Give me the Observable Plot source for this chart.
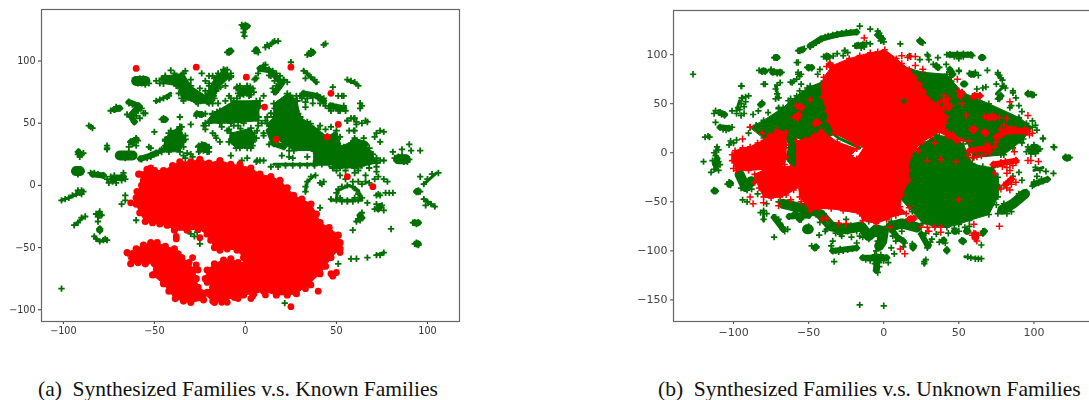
<!DOCTYPE html>
<html><head><meta charset="utf-8">
<script src="https://cdn.jsdelivr.net/npm/d3@7"></script>
<script src="https://cdn.jsdelivr.net/npm/@observablehq/plot@0.6"></script>
<style>
html,body{margin:0;padding:0;background:#fff;width:1089px;height:400px;overflow:hidden}
#page{position:relative;width:1089px;height:400px;overflow:hidden}
#page svg{position:absolute;top:0;filter:blur(.4px)}
.cap{position:absolute;top:377px;font:21.5px "Liberation Serif",serif;color:#111;white-space:pre}
</style></head><body><div id="page"></div>
<script>
const ticksX=[-100,-50,0,50,100];
const ticksYA=[-100,-50,0,50,100];
const ticksYB=[-150,-100,-50,0,50,100];
const captionA="(a)  Synthesized Families v.s. Known Families";
const captionB="(b)  Synthesized Families v.s. Unknown Families";

// Panel (a): saturated red mass, outline
const knownMainOutline=[[-58.6,9],[-54,13],[-50,12],[-45,12],[-40,16],[-36,19],[-30,19],[-25,21],[-20,18],[-14,20],[-8,17],[-3,16],[3,14],[8,9],[14,7],[19,4],[23,-2],[26.5,-8],[31,-11],[36,-15],[39,-23],[41,-30],[46,-34],[51,-40],[52,-46],[52,-51],[47,-58],[44,-65],[41,-71],[35,-79],[28,-87],[23,-88],[17,-88],[10,-85],[4.6,-87],[-1,-88],[-6,-90],[-11,-92],[-17,-94],[-23,-87],[-18,-82],[-22,-75],[-21,-68],[-17,-63],[-12,-60],[-8,-59],[-4,-62],[-1,-64],[-1,-58],[-4.6,-52],[-10,-51],[-14,-52],[-17,-50],[-19,-44],[-21,-39],[-26,-35],[-32,-36],[-39,-36],[-43,-32],[-47,-31],[-51,-30],[-55,-29],[-58,-22],[-60,-15],[-60,-10],[-59.5,-5],[-57,0],[-56,4]];
const knownLowerOutline=[[-65,-54],[-60,-51],[-56,-48],[-52,-46],[-48.5,-46],[-44,-49],[-39,-51],[-37,-55],[-35,-58],[-31,-62],[-28,-68],[-27,-75],[-26,-82],[-21,-86],[-23,-92],[-30,-94],[-34,-93],[-38.5,-91],[-42,-85],[-45,-79],[-51,-72],[-50,-63],[-55,-63],[-59,-62],[-63,-63]];
const knownScatter=[[-60,94],[-27,95],[0.5,87],[25,95],[47,74],[10.5,63],[51,49],[17,37],[45,39],[56,7],[70,-1],[-58,9],[-63,-14],[-38,-41],[-38,-43],[-25,-42],[-29,-58],[-27,-64],[-26,-68],[-21,-78],[-17,-80],[52,-54],[47,-71],[50,-70],[48,-73],[40,-85],[36,-80],[33,-83],[25,-97.5],[11,-88],[3,-91],[4,-89],[-4,-91],[-13,-94],[-10,-94],[-18,-93],[-52,14],[-50,12],[-25,20],[-3,17]];

// Panel (a): synthesized plus markers
const synthLeft=[[-101,-12],[-99,-11],[-97,-10],[-95,-8],[-93,-7],[-91,-6],[-90,-4],[-92,-4],[-89,-5],[-90,-7],[-92,27],[-90,25],[-91,23],[-89,26],[-92,25],[-94,11],[-92,13],[-90,11],[-92,9],[-92,11],[-86,48],[-85,47],[-84,46],[-85,10],[-83,10],[-81,9],[-78,8],[-76,32],[-76,29],[-76,30],[-76,5],[-74,7],[-72,8],[-70,6],[-73,3],[-71,2],[-68,4],[-66,5],[-67,7],[-67,10],[-75,2],[-70,62],[-72,61],[-74,60],[-71,63],[-62,58],[-60,56],[-63,55],[-61,52],[-59,60],[-58,54],[-65,57],[-64,66],[-62,65],[-60,64],[-58,63],[-57,62],[-56,58],[-55,58],[-69,24],[-67,25],[-65,24],[-63,23],[-66,22],[-64,26],[-62,24],[-64,31],[-62,33],[-61,36],[-60,38],[-59,36],[-63,35],[-60,32],[-57,21],[-54,22],[-52,23],[-50,25],[-48,26],[-53,31],[-52,30],[-50,43],[-46,53],[-44,53],[-45,54],[-36,55],[-30,49],[-94,-32],[-92,-30],[-90,-26],[-88,-25],[-82,-23],[-80,-23],[-79,-24],[-81,-25],[-80,-21],[-81,-29],[-80,-35],[-80,-37],[-83,-41],[-82,-43],[-80,-45],[-78,-44],[-76,-44],[-77,-43],[-60,-28],[-66,-8],[-66,-12],[-68,-15],[-101,-83],[-30,-39],[-28,-41],[-26.5,-37.5],[-25,-47]];
const synthUpper=[[-60,84],[-58,86],[-56,86],[-54,84],[-57,82],[-55,81],[-59,82],[-57,84],[-53,82],[-49,84],[-46,85],[-44,87],[-42,84],[-40,86],[-39,90],[-37,87],[-35,89],[-33,92],[-34,85],[-32,82],[-36,82],[-34,78],[-32,75],[-35,74],[-38,80],[-30,85],[-49,68],[-47,69],[-45,70],[-43,71],[-42,72],[-25,78],[-22,76],[-20,80],[-24,72],[-21,70],[-18,73],[-16,76],[-22,84],[-20,88],[-24,90],[-16,80],[-14,84],[-13,88],[-12,92],[-15,90],[-18,88],[-10,93],[-8,90],[-9,86],[-11,80],[-28,72],[-27,67],[-20,66],[-17,70],[-5,78],[-3,80],[-1,78],[1,80],[3,76],[-4,74],[-1,73],[2,72],[4,78],[-9,72],[-4.6,70],[10,72],[-8,70],[-11,68],[-15,66],[-2,129],[-1,126],[-1,123],[0,129],[1,128],[-0.5,120],[-10,107],[-9,108],[-8,108],[5,108],[6,109],[7,107],[11,111],[12,113],[13,112],[15,115],[16,116],[18,116],[35,106],[36,108],[37,107],[34,105],[43,113],[44,114],[25,99],[7,90],[9,94],[11,97],[13,93],[15,92],[17,90],[19,88],[21,85],[23,83],[14,88],[16,84],[18,80],[15,78],[5,85],[6,86],[32,92],[34,90],[36,87],[38,85],[39,83],[33,86],[56,85],[58,84],[60,83],[62,80],[48,79]];
const synthCentre=[[-20,50],[-22,45],[-18,42],[-16,38],[-14,50],[-12,55],[-18,57],[-14,60],[-10,58],[-8,62],[-6,57],[-4,60],[-2,55],[0,58],[2,62],[4,66],[6,68],[8,64],[5,60],[3,54],[-1,50],[-4,48],[-8,50],[-9,45],[-7,40],[-3,40],[-1,36],[0,33],[2,38],[4,35],[5,42],[-5,34],[-3,30],[1,30],[4,32],[-7,35],[10,42],[9,50],[7,48],[12,55],[14,58],[16,62],[18,66],[20,60],[22,56],[24,52],[22,62],[24,66],[26,70],[25,62],[28,60],[27,55],[30,52],[26,48],[22,47],[18,52],[16,48],[14,44],[18,42],[20,40],[24,42],[28,44],[30,40],[32,44],[34,48],[36,46],[38,42],[40,45],[42,40],[35,38],[31,36],[27,38],[23,36],[16,35],[13,33],[20,32],[-25,57],[-27,56],[-23,48],[-14,35],[-8,24],[-26,31],[-24,33],[-22,32],[-20,30],[-23,28],[-25,28],[-21,27],[-44,37],[-42,39],[-40,41],[-38,43],[-36,45],[-36,40],[-38,37],[-34,36],[-41,34],[-44,32],[-46,29],[-42,29],[-38,30],[-36,33],[-33,40],[-35,47],[-34,24],[-32,26],[-30,25],[-33,22],[-29,23],[14,15],[18,15],[22,16],[26,16],[30,16],[34,16],[38,16],[42,17],[46,17],[6,19],[8,20],[10,20],[-2,20],[1,22],[20,24],[26,22]];
const synthRight=[[44,45],[46,35],[48,32],[50,30],[52,28],[47,27],[50,24],[53,24],[46,20],[49,18],[52,18],[55,20],[48,15],[52,14],[55,30],[58,34],[60,38],[62,30],[64,33],[65,38],[60,25],[63,22],[66,20],[68,18],[70,20],[72,22],[74,20],[76,20],[64,16],[68,14],[72,15],[70,25],[66,26],[31,70],[34,70],[37,71],[40,70],[43,70],[33,67],[37,66],[41,66],[43,66],[28,72],[32,72],[33,63],[46,62],[48,64],[50,63],[52,62],[54,62],[47,60],[51,60],[55,60],[51,72],[54,72],[56,52],[58,54],[60,54],[61,51],[64,50],[66,52],[61,49],[64,64],[63,62],[72,42],[74,44],[76,43],[71,39],[74,35],[60,44],[57,44],[82,22],[84,23],[86,24],[88,22],[90,21],[85,20],[87,19],[83,20],[89,19],[81,27],[86,29],[90,33],[91,28],[96,28],[96,7],[98,1],[100,5],[102.5,9],[106,10],[94,-5],[95,-4],[96,-5],[98,-11],[100,-13],[102,-15],[104,-17],[99,-16],[93,-30],[92,-30],[94,-31],[95,-30],[93,-47],[95,-48],[94,-46],[80,-35],[72,-15],[73,-18],[75,-16],[71,-19],[76,-20],[67,-14],[61,-29],[62,-27],[63,-25],[64,-22],[63,-28],[59,-36],[41,-18],[58,-59],[61,-59],[67,-58],[72,-56],[74,-56],[76,-54],[51,-63],[47,-11],[50,-12],[53,-13],[56,-13],[59,-13],[62,-12],[64,-10],[50,-6],[51,-3],[53,-1],[56,0],[59,-1],[61,-4],[62,-7],[60,-10],[56,-12],[52,-10],[62,3],[64,1],[66,3],[68,2],[59,3],[55,5],[52,8],[50,12],[55,12],[60,10],[62,12],[66,8],[72,-8],[73,-7],[74,-8],[77,-6],[79,-6],[81,-6],[72,11],[73,7],[71,5],[76,5],[78,3],[41,2],[43,3],[42,1],[33,-1],[33,-5],[34,3],[36,7],[38.5,8],[21.6,-94.6]];
const synthExtra=[[-22,57.6],[-15.6,59],[-12,57.6],[-8,60],[-2.7,63],[4.6,60],[7.3,55],[11,52],[13,48],[16.5,57.6],[20,68],[24.7,72.4],[28.4,68],[29,57.6],[34,51],[37.5,45.6],[41,48],[-10,44],[-13,47],[-22,48],[-16.5,40],[-6.4,48],[-2.7,45.6],[6.4,44],[10,40],[24,28],[29,32],[35,37.5],[36.6,29.5],[34,23],[24,23],[47,47],[52,39],[54,31],[59.5,33.5],[63,28],[59.5,44],[67,51],[56,52],[63,66],[69,25.5],[72,20],[63,16],[56,16],[48.5,15],[36,72],[30,72],[41,71],[44,64],[48.5,62],[52,60],[54,64],[53,72],[59.5,53.6],[-46,86],[-47,82],[-39,83],[-34,82],[-36.6,74],[-34,68],[-30,74],[-25.6,70],[-21,67],[-17.4,72],[-20,82],[-15.6,87],[-11,92.5],[-8,87],[-13.7,79],[-41,92.5],[1,80],[4.6,75],[5.5,86],[10,96.5],[13,88.5],[17,80],[15.6,75],[21,84.5],[-41,44],[-37.5,44],[-44,36],[-39,32],[-34,36],[-34,31],[-42,27],[-47,28],[-36,47],[-25.6,32],[-20,31],[-25.6,27],[-20,27],[6.4,20]];
// Panel (a): dense cores of green markers, outlined
const synthCoreMass=[[15.6,65.7],[23,73.7],[28.4,68],[30,55],[35.7,49.6],[45,39],[50,44],[54,25.5],[57.7,17.5],[37.5,17.5],[37.5,28],[26.6,28],[15.6,39],[12,49.6],[15.6,55]];
const synthCoreBand=[[-18,57.6],[-6.4,68],[8,68],[7,52],[-8,50],[-22,50]];
const synthCoreLow=[[-8,42],[3,46],[6,38],[3,30],[-5,30],[-9,35]];
const synthCoreUpper=[[-44,88],[-34,90],[-30,80],[-22,72],[-17,86],[-12,93],[-8,88],[-15,78],[-18,66],[-26,66],[-35,70],[-37,80],[-45,82]];
const synthCoreLeft=[[-42,42],[-36,47],[-33,37],[-36,27],[-46,27],[-44,36]];
const synthCoreRight=[[50,30],[60,36],[68,30],[72,18],[60,14],[48,14]];
const synthCoreTop=[[-4.6,79],[2.7,79],[3,73],[-3,72]];
// Panel (a): dense runs of green markers, traced as chains (thin, medium, wide)
const synthThin=[
 [[-101,-12],[-90,-6]],[[-49,67],[-41,74]],[[32,92.5],[39,82]],[[15.6,17],[45,17]],[[-84,47],[-85,48]],[[-76,29],[-76,32]],[[56,84.5],[62,81]],
 [[47,-12],[64,-12],[62,-4],[57,0],[51,-4],[50,-10]],[[33,-5],[34,3],[38,8]],[[-94,-32],[-89,-26]],[[-83,-41],[-80,-45],[-76,-44]],[[-1,120],[0,126]],[[11,112],[18,116]],[[72,-56],[76,-54]],[[61,-29],[64,-22]],[[98,1],[105,10]],[[98,-11],[104,-17]]];
const synthMid=[
 [[-45,53],[-44,53]],[[-26.6,57.6],[-24,57]],[[8,94],[13,92.5],[17,87],[20,82],[16.5,75]],[[32,74],[39.4,72],[43,68]],[[46.7,64],[54,62]],[[13,44],[15.6,33.5],[21,31]],
 [[-57.7,21.4],[-52,24],[-49,26]],[[-64,67],[-58.6,64],[-63,56],[-61,51]],[[-72,61],[-69,62]],[[-63,35],[-60,37]],[[-84,9],[-78,8]],[[-91.6,27],[-91,25]],
 [[-73,5],[-67,7]],[[-80.5,-23],[-80,-24]],[[-80,-36],[-80,-35]],[[64,-26],[63,-24]],[[85,20],[89,21]],[[60,36],[66,33]],[[74,-17],[73,-19]],[[95,-30],[93,-30]],[[94,-47],[95,-47]],[[95,-5],[94,-5]],[[36,106],[37,107]],[[-9,107],[-8,108]],[[-1,128],[1,128]],[[6,108],[6,109]]];
const synthWide=[[[-60,84],[-55,84]],[[-93,11.5],[-91,11.5]],[[-69,24],[-62,24]],[[-23,31],[-22,30]],[[84,21],[88,21]]];

// Panel (b): saturated regions, outlines
const unknownUnderLeft=[[-89,26],[-80,33],[-67,46],[-58,58],[-51,66],[-40,73],[-35,60],[-30,20],[-50,10],[-65,20],[-80,15]];
const unknownUnderRight=[[8,90],[26,82],[42,80],[52,62],[70,50],[90,36],[99,26],[93,14],[86,5],[80,-2],[60,-5],[55,12],[37,26],[25,30]];
const unknownDisc=[[17,-3],[25,8],[35,18],[44,16],[53,9],[56,-2],[59,-11],[66,-14],[73,-15],[76,-25],[77,-35],[76,-45],[70,-63],[57,-69],[50,-73],[42,-76],[34,-75],[26,-72],[19,-60],[10.6,-46],[14,-30]];
const synthMainOutline=[[0.7,105],[8.4,96],[12,91],[17,85],[21,77],[24,70],[27,62],[29.5,55],[36,50],[39,43],[42,36],[41,30],[40.5,24],[46,19],[53,12.5],[49,11],[43,16],[37,21],[31,16],[26,11],[21,4],[18,-3],[16,-18],[17,-28],[12,-43],[11,-55],[15,-62],[8,-64],[2,-68],[-5,-72],[-14,-69],[-16,-62],[-27,-59],[-35,-57],[-43,-57],[-49,-59],[-52,-52],[-56,-45],[-57,-30],[-58,-15],[-58,12],[-52,14],[-46,18],[-41.5,23],[-31,11],[-18,4],[-22,-3],[-18,-6],[-13,6],[-18,8],[-33,20],[-37,33],[-38,43],[-41,57],[-41,68],[-40,77],[-34,89],[-23,96],[-16,99],[-9,102],[-4,103]];
const synthLeftOutline=[[-101,-8],[-101,-2],[-99,2],[-94,5],[-89,6],[-84,10],[-80,12.5],[-76,18],[-71,23],[-65,21],[-65,8],[-65,-4],[-66,-12],[-72,-16],[-80,-17],[-90,-18],[-98,-18]];
const synthLowerLeftOutline=[[-86,-22],[-75,-14],[-62,-14],[-55,-18],[-56,-35],[-60,-38],[-65,-43],[-69,-45],[-75,-46],[-80,-45],[-83,-36],[-85,-28]];

const unknownOuterLeft=[[-49,108],[-47,110],[-45,112],[-43,114],[-41,116],[-39,118],[-37,119],[-34,120],[-31,121],[-28,122],[-25,123],[-22,123],[-19,123],[-16,129],[-9,126],[-57,104],[-55,105],[-53,106],[-38,98],[-36,97],[-38,96],[-40,98],[-72,97],[-73,97],[-57,92],[-50,86],[-51,87],[-48,86],[-81,83],[-80,84],[-83,84],[-73,83],[-71,81],[-69,81],[-75,84],[-68,82],[-79,70],[-95,68],[-127,80],[-72,65],[-71,60],[-72,55],[-70,56],[-71,69],[-92,57],[-94,56],[-90,58],[-92,52],[-95,50],[-93,47],[-96,44],[-98,40],[-95,38],[-93,40],[-112,43],[-110,41],[-108,39],[-106,38],[-113,40],[-112,31],[-107,24],[-104,25],[-101,26],[-105,23],[-119,16],[-117,17],[-116,16],[-102,12],[-100,10],[-103,8],[-98,13],[-111,6],[-110,3],[-113,0],[-112,-3],[-120,-9],[-112,-11],[-110,-9],[-114,-8],[-111,-14],[-113,-17],[-115,-20],[-110,-18],[-109,-12],[-104,-32],[-103,-30],[-102,-33],[-113,-38],[-94,-30],[-92,-33],[-90,-28],[-95,-36],[-91,-38],[-88,-37],[-94,-48],[-91,-50],[-80,-59],[-78,-62],[-82,-61],[-80,-68],[-69,-72],[-67,-76],[-66,-80],[-70,-68],[-64,-78],[-72,-66],[-73,-86],[-60,-62],[-58,-63],[-55,-68],[-51,-77],[-49,-78],[-50,-75],[-52,-79],[-46,-96],[-48,-95],[-45,-97],[-43,-84],[-31,101],[-27,99],[-26,104],[-24,102],[-60,73],[-62,72],[-58,75],[-56,78],[-57,82],[-55,80],[-63,5],[-60,0],[-61,-6],[-58,-3],[-59,8],[-62,12],[-58,-10],[-60,-14],[-90,20],[-85,28],[-78,32],[-70,45],[-62,55],[-55,70],[-84,-42],[-78,-52],[-70,-50],[-62,-50],[-55,-52],[-50,-62],[-45,-63],[-40,-63],[-94.6,68],[-80,70],[-69,71.5],[-61,71.5],[-57,80],[-58,92],[-75,85],[-94.6,56],[-97,46],[-101,42.7],[-87,39],[-83.5,42.7],[-81,51],[-77,41],[-70,46],[-63.5,53],[-56,63],[-49,68],[-44,80],[-42.5,85],[-33.7,98.6],[-26,104],[-18,109],[-11.5,112]];
const unknownOuterBottom=[[-38,-78],[-35,-75],[-32,-82],[-28,-85],[-24,-80],[-20,-78],[-16,-85],[-12,-80],[-10,-88],[-14,-76],[-22,-74],[-30,-72],[-6,-78],[0,-82],[2,-75],[6,-85],[8,-90],[10,-87],[12,-80],[14,-92],[13,-96],[4,-78],[-4,-85],[-3,-95],[-4,-90],[-5,-100],[-18,-92],[-32,-100],[-30,-101],[-27,-100],[-24,-99],[-21,-98],[-29,-98],[-35,-95],[-33,-111],[-12,-109],[-9,-110],[-6,-108],[-4,-106],[-2,-108],[0,-110],[-3,-112],[-6,-113],[-3,-116],[-4,-122],[-5,-118],[-2,-104],[-6,-104],[1,-107],[3,-112],[5,-97],[7,-103],[19,-95],[19,-93],[27,-111],[27,-113],[28,-109],[30,-94],[29,-97],[31,-91],[32,-88],[39,-89],[41,-92],[37,-91],[42,-99],[52,-89],[53,-91],[58,-107],[61,-108],[63,-108],[65,-108],[56,-106],[65,-94],[47,-77],[50,-80],[54,-76],[57,-75],[66,-80],[-16,-155],[0,-156],[-40,-62],[-25,-68],[-10,-70],[5,-70],[15,-70],[22,-78],[28,-82],[35,-83],[43,-82],[-42.5,-71],[-39,-80],[-34,-90],[-29,-83],[-24,-76],[-18,-80],[-14,-86],[-21.5,-86],[-7,-80],[-3,-90],[0.6,-83]];
const unknownOuterRight=[[-4,124],[-3,122],[-2,119],[-1,116],[0,113],[-2,114],[-4,120],[-19,109],[-17,110],[-15,107],[-13,108],[-9,111],[11,111],[25,113],[24,115],[26,112],[80,-52],[84,-55],[88,-50],[92,-45],[95,-40],[94,-43],[85,-60],[80,-58],[90,-42],[82,-62],[76,-62],[75,-53],[100,-30],[103,-31],[106,-29],[99,-34],[105,-27],[101,-15],[104,-18],[108,-19],[102,-24],[113,-21],[97,3],[100,5],[103,2],[101,-1],[98,-1],[95,1],[100,8],[104,4],[96,6],[113,6],[106,15],[121,-4],[124,-5],[122,-6],[101,28],[102,23],[96,61],[98,60],[100,59],[86,63],[77,79],[78,76],[76,80],[79,74],[75,70],[79,68],[81,66],[69,84],[59,80],[61,82],[57,81],[63,79],[44,100],[47,98],[50,96],[53,98],[56,100],[59,99],[49,101],[53,101],[42,100],[65,97],[50,84],[35,89],[37,87],[29,100],[30,95],[36,97],[62,65],[66,66],[68,67],[76,55],[78,58],[88,56],[44,77],[45,73],[46,80],[44,82],[85,48],[92,42],[95,30],[90,35],[80,5],[85,8],[92,10],[78,-2],[90,-20],[92,-28],[86,-24],[33,90],[41.6,90],[45,83],[39.4,76.6],[29.5,98.6],[24,95],[17,98.6],[50,83],[76,81.7],[80,68],[77,54.6],[86,61],[84,46],[90,48],[99,32.5],[106,14],[113.6,5.4]];
const unknownInnerSpecks=[[13,52],[14,53]];
// Panel (b): dense runs of green markers, traced as chains (thin, medium, wide)
const unknownThin=[[[-38,25],[-30,15],[-16,5]],[[-72,68],[-70,56]],[[-96,53],[-98,43]],[[-112,-3],[-111,6]],[[-112,-18],[-110,-8]],[[-3,119],[-1,113]],[[-4,124],[-3,119]],[[54,-106],[64,-108]],[[100,-18],[106,-15]],[[27,-110],[27,-114]],[[-73.5,-64],[-67,-80]],[[-80,-59],[-80,-69]],[[76,80],[79,75]],[[80,68],[75,60]]];
const unknownMid=[[[-49,109],[-42,116],[-31,120.5],[-18,123]],[[-72,97],[-71,97]],[[-56,104],[-54,105]],[[-38,98.6],[-37,98]],[[-50,87],[-48,87]],[[-81,83],[-79,83]],[[-74,82],[-69,82]],[[-109,41],[-106,39]],[[-109,26],[-103,25]],[[-82,49],[-81,50]],[[-18,109],[-14,110]],[[-4,120],[-1,116]],
 [[44,100],[58,100]],[[65,97],[66,97]],[[35,88.5],[36,87]],[[24,114],[25,113]],[[58,80],[60,80]],[[77,56],[78,58]],[[96,60],[99,59]],[[53,70],[54,70]],[[44,85],[46,80]],[[121,-5],[123,-5]],
 [[-112,-12],[-111,-6]],[[-103,-32],[-102,-31]],[[-113,-39],[-112,-39]],[[-46,-97],[-45,-96]],[[-34,-100],[-18,-97]],[[-14,-107],[2,-107]],[[-5,-109],[-5,-120]],[[-59,-62],[-56,-68]],
 [[100,-32],[109,-27]],[[-73,-66],[-67,-78]],[[4,-76],[9,-86],[13,-90]],[[19.5,-97],[20,-95]],[[29.5,-95],[25,-83]],[[39.5,-90],[40,-89]],[[42,-100],[42,-99]],[[52,-90],[53,-90]],[[47,-80],[48,-80]],[[55,-80],[56,-80]],[[67,-80],[66,-82]],[[-63,-65],[-50,-64]]];
const unknownWide=[[[-51,-78],[-50,-78]],[[-96,-22],[-92,-35],[-88,-29]],[[-63,18],[-60,8],[-62,-5],[-58,-12]],[[99,3],[101,4]],[[94,-42],[86,-52],[79,-58]],[[-67,-52],[-45,-60]],[[-42,-63],[-35,-75],[-25,-78],[-15,-75],[-10,-85],[-5,-78],[0,-80],[-1,-90],[-3,-95]],[[5,-75],[12,-72],[22,-76]]];
const synthPatches=[[[70,36],[74,36]],[[59,24],[60,23]],[[67,21],[68,20]],[[41,53],[43,46]],[[52,61],[51,58]],[[60.5,58],[64,58]],[[75,16],[82,22],[95,22]],[[57,2],[70,5]],[[81.5,-32],[85,-27]],[[73,-12],[88,-8]],[[61,-86],[61,-83]],[[17,-68],[20,-67]],[[-58,37],[-57,38]],[[-45,31],[-44,31]],[[-56,47],[-55,47]],[[-36,90],[-35,88]]];
const synthScatter=[[-58,37],[-56,39],[-60,36],[-57,35],[-56,47],[-54,46],[-58,48],[-45,31],[-43,30],[-46,29],[-36,90],[-38,88],[-49,54],[-94,14],[-81,20],[-89,26],[-89,-45],[-87,-52],[-80,-51],[-70,-54],[-41,-67],[-38,-67],[-30,-72],[-25,-72],[4,-76],[25,-76],[29,-76],[30,-80],[34,-76],[38,-76],[38,-81],[29,-8],[38,-7],[48,-9],[34,10],[23,2],[50,-48],[17,-56],[18,-67],[60,-73],[77,-75],[59,-84],[61,-86],[63,-84],[61,-88],[62,-90],[60,-82],[11,-98],[14,-103],[-13,117],[12,99],[16,97],[18,98],[21,98],[21,89],[26,85],[49,75],[50,63],[51,60],[52,50],[55,38],[38,52],[40,58],[42,50],[43,55],[45,48],[40,47],[59,57],[64,58],[84,52],[67,37],[69,36],[72,38],[74,36],[77,36],[82,35],[96,38],[59,23],[61,25],[67,20],[57,12],[69,9],[56,-3],[59,-5],[62,-4],[65,-3],[68,-1],[71,1],[74,6],[75,11],[77,16],[79,19],[82,24],[85,26],[88,24],[80,28],[84,21],[90,23],[78,24],[96,22],[97,18],[99,20],[94,24],[96,-8],[98,-8],[103,-9],[87,1],[78,-10],[81,-9],[84,-11],[86,-13],[82,-15],[79,-14],[88,-10],[76,-12],[84,-18],[82,-21],[74,-21],[80,-33],[82,-36],[85,-32],[88,-30],[84,-38],[78,-37],[-100,-16],[-86,-30],[-62,-48],[-55,-50]];

const GREEN="#007000", RED="#ff0000";
const fx=d=>d[0], fy=d=>d[1];
const region=(a,c)=>Plot.line(a,{x:fx,y:fy,curve:"linear-closed",fill:c,stroke:c,strokeWidth:1});
const plus=(a,c,r,w)=>Plot.dot(a,{x:fx,y:fy,symbol:"plus",stroke:c,r,strokeWidth:w});
const disc=(a,c,r)=>Plot.dot(a,{x:fx,y:fy,r,fill:c,stroke:"none"});
const chains=(list,c,w)=>list.map(a=>Plot.line(a,{x:fx,y:fy,stroke:c,strokeWidth:w,strokeLinecap:"round",strokeLinejoin:"round",curve:"linear"}));
const chainMarkers=(list,c,r,w)=>plus(list.flat(),c,r,w);
const frame=()=>Plot.frame({stroke:"#666",strokeWidth:1.2});

const chartA=Plot.plot({
  width:480,height:345,marginLeft:41,marginRight:21,marginTop:9,marginBottom:24,
  style:{left:"0px",fontFamily:"'DejaVu Sans',sans-serif",fontSize:"9.6px",color:"#333",background:"transparent"},
  x:{domain:[-112,117.6],ticks:ticksX,label:null,tickSize:3,tickPadding:3},
  y:{domain:[-109.4,141.4],ticks:ticksYA,label:null,tickSize:3,tickPadding:3},
  marks:[
    [synthCoreMass,synthCoreBand,synthCoreLow,synthCoreUpper,synthCoreLeft,synthCoreRight,synthCoreTop].map(a=>region(a,GREEN)),
    plus([synthCoreMass,synthCoreBand,synthCoreLow,synthCoreUpper,synthCoreLeft,synthCoreRight,synthCoreTop].flat(),GREEN,2.4,1.8),
    chains(synthThin,GREEN,3),chains(synthMid,GREEN,6),chains(synthWide,GREEN,10),
    chainMarkers(synthWide,GREEN,3,2),chainMarkers(synthMid,GREEN,2.4,1.8),
    plus(synthLeft,GREEN,2.2,1.8),plus(synthUpper,GREEN,2.2,1.8),plus(synthCentre,GREEN,2.2,1.8),plus(synthRight,GREEN,2.2,1.8),plus(synthExtra,GREEN,2.2,1.8),
    region(knownMainOutline,RED),region(knownLowerOutline,RED),
    disc(knownMainOutline,RED,3.6),disc(knownLowerOutline,RED,3.6),disc(knownScatter,RED,3.4),
    frame()
  ]
});
const chartB=Plot.plot({
  width:470,height:345,marginLeft:43,marginRight:8,marginTop:10,marginBottom:24,
  style:{left:"630px",fontFamily:"'DejaVu Sans',sans-serif",fontSize:"11px",color:"#444",background:"transparent"},
  x:{domain:[-140,139],ticks:ticksX,label:null,tickSize:3,tickPadding:4},
  y:{domain:[-172,145],ticks:ticksYB,label:null,tickSize:3,tickPadding:3},
  marks:[
    region(unknownUnderLeft,GREEN),region(unknownUnderRight,GREEN),region(unknownDisc,GREEN),
    chains(unknownThin,GREEN,3),chains(unknownMid,GREEN,6),chains(unknownWide,GREEN,10),
    chainMarkers(unknownMid,GREEN,2.4,1.8),chainMarkers(unknownWide,GREEN,3,2),
    plus(unknownUnderLeft,GREEN,2.2,1.6),plus(unknownUnderRight,GREEN,2.2,1.6),plus(unknownDisc,GREEN,2.2,1.6),
    plus(unknownOuterLeft,GREEN,2.2,1.7),plus(unknownOuterBottom,GREEN,2.2,1.7),plus(unknownOuterRight,GREEN,2.2,1.7),
    region(synthMainOutline,RED),region(synthLeftOutline,RED),region(synthLowerLeftOutline,RED),
    plus(synthMainOutline,RED,2.2,1.6),plus(synthLeftOutline,RED,2.2,1.6),plus(synthLowerLeftOutline,RED,2.2,1.6),
    chains(synthPatches,RED,6),chainMarkers(synthPatches,RED,2.6,1.8),
    plus(synthScatter,RED,2.4,1.5),
    plus(unknownInnerSpecks,GREEN,2,1.2),
    frame()
  ]
});
const page=document.getElementById("page");
page.append(chartA,chartB);
for(const [t,l] of [[captionA,"38px"],[captionB,"658px"]]){
  const d=document.createElement("div");d.className="cap";d.style.left=l;d.textContent=t;page.append(d);
}
</script></body></html>
